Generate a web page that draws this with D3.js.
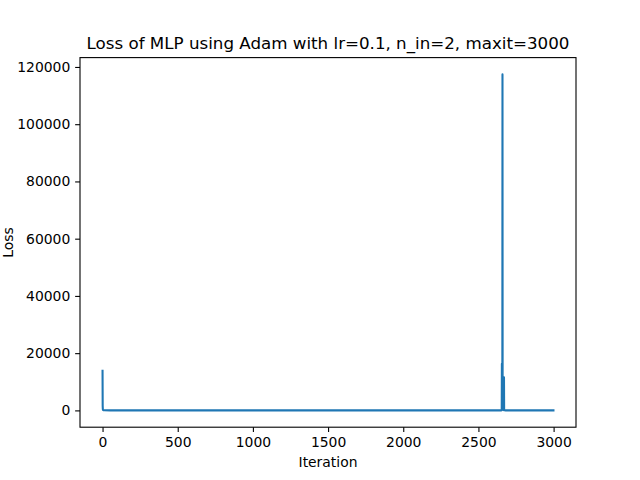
<!DOCTYPE html>
<html>
<head>
<meta charset="utf-8">
<script src="https://cdn.jsdelivr.net/npm/d3@7"></script>
<style>
  html, body { margin: 0; padding: 0; background: #fff; }
  svg { display: block; font-family: "DejaVu Sans", sans-serif; }
</style>
</head>
<body>
<svg id="chart" width="640" height="480"></svg>
<script>
// Data: iteration -> loss, key points of the polyline
const iterations = [0, 1, 2, 3, 5, 10, 50, 500, 1500, 2600, 2654, 2655, 2656, 2657, 2658, 2659, 2660, 2661, 2662, 2663, 2664, 2665, 2666, 2667, 2668, 2669, 2670, 2671, 2672, 2680, 2800, 2999];
const losses     = [13800, 1500, 400, 150, 80, 40, 20, 10, 8, 6, 20, 30, 16300, 200, 5000, 300, 117400, 500, 9000, 400, 3000, 200, 11600, 100, 4000, 80, 11600, 60, 30, 15, 8, 5];
const xTicks = [0, 500, 1000, 1500, 2000, 2500, 3000];
const yTicks = [0, 20000, 40000, 60000, 80000, 100000, 120000];
const titleText = "Loss of MLP using Adam with lr=0.1, n_in=2, maxit=3000";
const xLabel = "Iteration";
const yLabel = "Loss";

(function () {
const mLeft = 80, mRight = 576, mTop = 57.6, mBottom = 427.2;
const svg = d3.select("#chart");

const data = iterations.map((it, i) => ({x: it, y: losses[i]}));
const xmin = 0, xmax = 2999;
const xpad = (xmax - xmin) * 0.05;
const [ymin, ymax] = d3.extent(losses);
const ylo = Math.min(0, ymin);
const ypad = (ymax - ylo) * 0.05;

const x = d3.scaleLinear().domain([xmin - xpad, xmax + xpad]).range([mLeft, mRight]);
const y = d3.scaleLinear().domain([ylo - ypad, ymax + ypad]).range([mBottom, mTop]);

// Line
svg.append("path")
  .datum(data)
  .attr("fill", "none")
  .attr("stroke", "#1f77b4")
  .attr("stroke-width", 2.08)
  .attr("stroke-linejoin", "round")
  .attr("stroke-linecap", "square")
  .attr("d", d3.line().x(d => x(d.x)).y(d => y(d.y)));

// Axes
const fs = 13.9;
const xAxis = d3.axisBottom(x).tickValues(xTicks).tickFormat(d3.format("d")).tickSize(4.86).tickPadding(4.86);
const yAxis = d3.axisLeft(y).tickValues(yTicks).tickFormat(d3.format("d")).tickSize(4.86).tickPadding(4.86);

const gx = svg.append("g").attr("transform", `translate(0,${mBottom})`).call(xAxis);
const gy = svg.append("g").attr("transform", `translate(${mLeft},0)`).call(yAxis);
[gx, gy].forEach(g => {
  g.select(".domain").remove();
  g.selectAll(".tick line").attr("stroke", "#000").attr("stroke-width", 1.1);
  g.selectAll(".tick text").attr("fill", "#000").style("font-size", fs + "px").style("font-family", "DejaVu Sans");
});

// Frame
svg.append("rect")
  .attr("x", mLeft).attr("y", mTop)
  .attr("width", mRight - mLeft).attr("height", mBottom - mTop)
  .attr("fill", "none").attr("stroke", "#000").attr("stroke-width", 1.1);

// Title & labels
svg.append("text")
  .attr("x", (mLeft + mRight) / 2).attr("y", 49)
  .attr("text-anchor", "middle")
  .style("font-size", "16.7px")
  .text(titleText);

svg.append("text")
  .attr("x", (mLeft + mRight) / 2).attr("y", 467)
  .attr("text-anchor", "middle")
  .style("font-size", fs + "px")
  .text(xLabel);

svg.append("text")
  .attr("transform", `translate(12.5,${(mTop + mBottom) / 2}) rotate(-90)`)
  .attr("text-anchor", "middle")
  .style("font-size", fs + "px")
  .text(yLabel);
})();
</script>
</body>
</html>
